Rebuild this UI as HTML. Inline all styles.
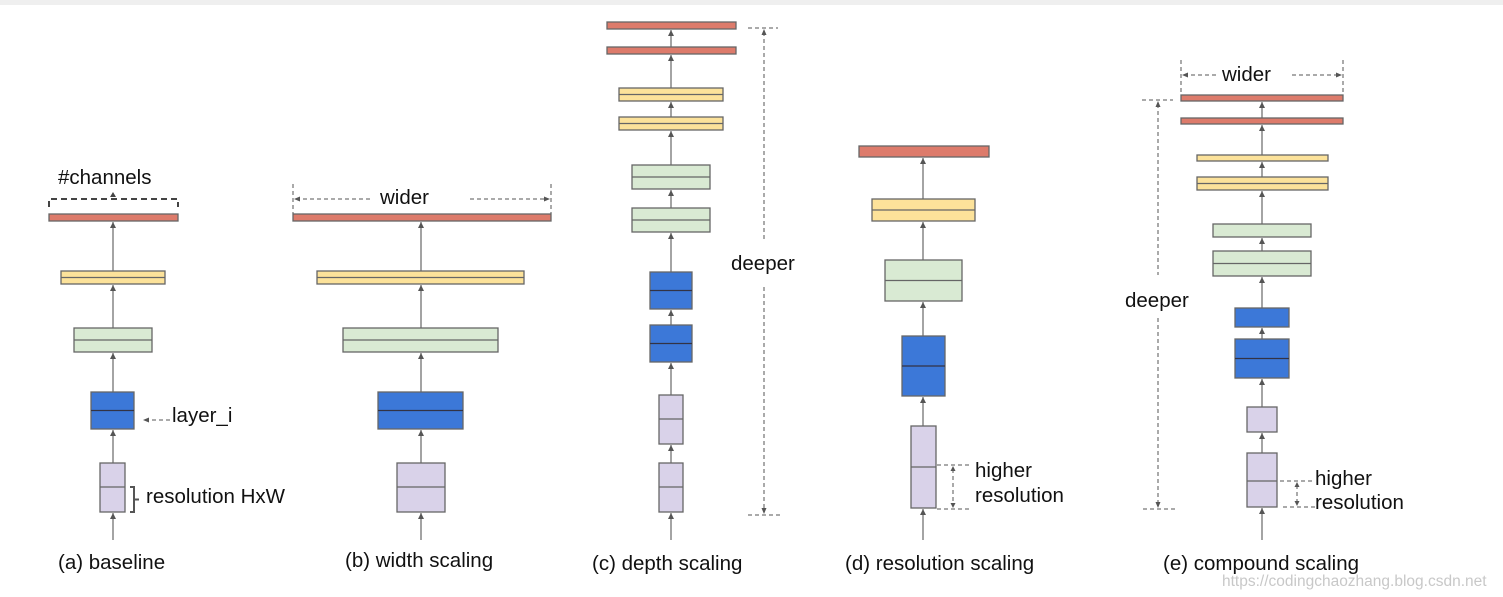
<!DOCTYPE html>
<html><head><meta charset="utf-8"><style>
html,body{margin:0;padding:0;background:#fff}
svg{display:block}
text{font-family:"Liberation Sans",Arial,sans-serif;fill:#111}
</style></head><body>
<svg width="1503" height="597" viewBox="0 0 1503 597" xmlns="http://www.w3.org/2000/svg">
<defs>
<marker id="ah" viewBox="0 0 10 10" refX="10" refY="5" markerWidth="5" markerHeight="6" orient="auto"><path d="M0,0 L10,5 L0,10 z" fill="#555"/></marker>
</defs>
<rect x="0" y="0" width="1503" height="5" fill="#efefef"/>
<g stroke="#666" stroke-width="1.3">
<rect x="49" y="214" width="129" height="7" fill="#dd7b6b"/>
<rect x="61" y="271" width="104" height="13" fill="#fce29a"/><line x1="61" y1="277.5" x2="165" y2="277.5"/>
<rect x="74" y="328" width="78" height="24" fill="#d9ead3"/><line x1="74" y1="340" x2="152" y2="340"/>
<rect x="91" y="392" width="43" height="37" fill="#3c78d8"/><line x1="91" y1="410.5" x2="134" y2="410.5" stroke="#334"/>
<rect x="100" y="463" width="25" height="49" fill="#d9d2e9"/><line x1="100" y1="487" x2="125" y2="487"/>
<rect x="293" y="214" width="258" height="7" fill="#dd7b6b"/>
<rect x="317" y="271" width="207" height="13" fill="#fce29a"/><line x1="317" y1="277.5" x2="524" y2="277.5"/>
<rect x="343" y="328" width="155" height="24" fill="#d9ead3"/><line x1="343" y1="340" x2="498" y2="340"/>
<rect x="378" y="392" width="85" height="37" fill="#3c78d8"/><line x1="378" y1="410.5" x2="463" y2="410.5" stroke="#334"/>
<rect x="397" y="463" width="48" height="49" fill="#d9d2e9"/><line x1="397" y1="487" x2="445" y2="487"/>
<rect x="607" y="22" width="129" height="7" fill="#dd7b6b"/>
<rect x="607" y="47" width="129" height="7" fill="#dd7b6b"/>
<rect x="619" y="88" width="104" height="13" fill="#fce29a"/><line x1="619" y1="94.5" x2="723" y2="94.5"/>
<rect x="619" y="117" width="104" height="13" fill="#fce29a"/><line x1="619" y1="123.5" x2="723" y2="123.5"/>
<rect x="632" y="165" width="78" height="24" fill="#d9ead3"/><line x1="632" y1="177" x2="710" y2="177"/>
<rect x="632" y="208" width="78" height="24" fill="#d9ead3"/><line x1="632" y1="220" x2="710" y2="220"/>
<rect x="650" y="272" width="42" height="37" fill="#3c78d8"/><line x1="650" y1="290.5" x2="692" y2="290.5" stroke="#334"/>
<rect x="650" y="325" width="42" height="37" fill="#3c78d8"/><line x1="650" y1="343.5" x2="692" y2="343.5" stroke="#334"/>
<rect x="659" y="395" width="24" height="49" fill="#d9d2e9"/><line x1="659" y1="419" x2="683" y2="419"/>
<rect x="659" y="463" width="24" height="49" fill="#d9d2e9"/><line x1="659" y1="487" x2="683" y2="487"/>
<rect x="859" y="146" width="130" height="11" fill="#dd7b6b"/>
<rect x="872" y="199" width="103" height="22" fill="#fce29a"/><line x1="872" y1="210" x2="975" y2="210"/>
<rect x="885" y="260" width="77" height="41" fill="#d9ead3"/><line x1="885" y1="280.5" x2="962" y2="280.5"/>
<rect x="902" y="336" width="43" height="60" fill="#3c78d8"/><line x1="902" y1="366" x2="945" y2="366" stroke="#334"/>
<rect x="911" y="426" width="25" height="82" fill="#d9d2e9"/><line x1="911" y1="467" x2="936" y2="467"/>
<rect x="1181" y="95" width="162" height="6" fill="#dd7b6b"/>
<rect x="1181" y="118" width="162" height="6" fill="#dd7b6b"/>
<rect x="1197" y="155" width="131" height="6" fill="#fce29a"/>
<rect x="1197" y="177" width="131" height="13" fill="#fce29a"/><line x1="1197" y1="183.5" x2="1328" y2="183.5"/>
<rect x="1213" y="224" width="98" height="13" fill="#d9ead3"/>
<rect x="1213" y="251" width="98" height="25" fill="#d9ead3"/><line x1="1213" y1="263.5" x2="1311" y2="263.5"/>
<rect x="1235" y="308" width="54" height="19" fill="#3c78d8"/>
<rect x="1235" y="339" width="54" height="39" fill="#3c78d8"/><line x1="1235" y1="358.5" x2="1289" y2="358.5" stroke="#334"/>
<rect x="1247" y="407" width="30" height="25" fill="#d9d2e9"/>
<rect x="1247" y="453" width="30" height="54" fill="#d9d2e9"/><line x1="1247" y1="481" x2="1277" y2="481"/>
</g>
<g stroke="#666" stroke-width="1.2" marker-end="url(#ah)">
<line x1="113" y1="540" x2="113" y2="513"/><line x1="113" y1="463" x2="113" y2="430"/><line x1="113" y1="392" x2="113" y2="353"/><line x1="113" y1="328" x2="113" y2="285"/><line x1="113" y1="271" x2="113" y2="222"/>
<line x1="421" y1="540" x2="421" y2="513"/><line x1="421" y1="463" x2="421" y2="430"/><line x1="421" y1="392" x2="421" y2="353"/><line x1="421" y1="328" x2="421" y2="285"/><line x1="421" y1="271" x2="421" y2="222"/>
<line x1="671" y1="540" x2="671" y2="513"/><line x1="671" y1="463" x2="671" y2="445"/><line x1="671" y1="395" x2="671" y2="363"/><line x1="671" y1="325" x2="671" y2="310"/><line x1="671" y1="272" x2="671" y2="233"/><line x1="671" y1="208" x2="671" y2="190"/><line x1="671" y1="165" x2="671" y2="131"/><line x1="671" y1="117" x2="671" y2="102"/><line x1="671" y1="88" x2="671" y2="55"/><line x1="671" y1="47" x2="671" y2="30"/>
<line x1="923" y1="540" x2="923" y2="509"/><line x1="923" y1="426" x2="923" y2="397"/><line x1="923" y1="336" x2="923" y2="302"/><line x1="923" y1="260" x2="923" y2="222"/><line x1="923" y1="199" x2="923" y2="158"/>
<line x1="1262" y1="540" x2="1262" y2="508"/><line x1="1262" y1="453" x2="1262" y2="433"/><line x1="1262" y1="407" x2="1262" y2="379"/><line x1="1262" y1="339" x2="1262" y2="328"/><line x1="1262" y1="308" x2="1262" y2="277"/><line x1="1262" y1="251" x2="1262" y2="238"/><line x1="1262" y1="224" x2="1262" y2="191"/><line x1="1262" y1="177" x2="1262" y2="162"/><line x1="1262" y1="155" x2="1262" y2="125"/><line x1="1262" y1="118" x2="1262" y2="102"/>
</g>
<g fill="none" stroke="#444" stroke-width="2" stroke-dasharray="6,4">
<path d="M49,207 L49,199 L178,199 L178,207"/>
</g>
<path d="M110,197 L113,192 L116,197" fill="#444"/>
<path d="M130,487 L134,487 L134,512 L130,512 M134,499.5 L139,499.5" fill="none" stroke="#555" stroke-width="2"/>
<g fill="none" stroke="#555" stroke-width="1" stroke-dasharray="4,3">
<line x1="170" y1="420" x2="145" y2="420"/>
<line x1="293" y1="184" x2="293" y2="214"/><line x1="551" y1="184" x2="551" y2="214"/>
<line x1="296" y1="199" x2="370" y2="199"/><line x1="470" y1="199" x2="548" y2="199"/>
<line x1="764" y1="32" x2="764" y2="240"/><line x1="764" y1="287" x2="764" y2="512"/>
<line x1="748" y1="28" x2="778" y2="28"/><line x1="748" y1="515" x2="780" y2="515"/>
<line x1="937" y1="465" x2="970" y2="465"/><line x1="937" y1="509" x2="970" y2="509"/><line x1="953" y1="469" x2="953" y2="505"/>
<line x1="1181" y1="60" x2="1181" y2="95"/><line x1="1343" y1="60" x2="1343" y2="95"/>
<line x1="1184" y1="75" x2="1218" y2="75"/><line x1="1292" y1="75" x2="1340" y2="75"/>
<line x1="1158" y1="104" x2="1158" y2="275"/><line x1="1158" y1="318" x2="1158" y2="505"/>
<line x1="1142" y1="100" x2="1173" y2="100"/><line x1="1143" y1="509" x2="1175" y2="509"/>
<line x1="1280" y1="481" x2="1312" y2="481"/><line x1="1283" y1="507" x2="1315" y2="507"/><line x1="1297" y1="485" x2="1297" y2="503"/>
</g>
<g fill="#555">
<path d="M143,420 L149,417.5 L149,422.5 z"/>
<path d="M294,199 L300,196.5 L300,201.5 z"/><path d="M550,199 L544,196.5 L544,201.5 z"/>
<path d="M764,29 L761.5,35 L766.5,35 z"/><path d="M764,514 L761.5,508 L766.5,508 z"/>
<path d="M953,466 L950.5,471 L955.5,471 z"/><path d="M953,508 L950.5,503 L955.5,503 z"/>
<path d="M1182,75 L1188,72.5 L1188,77.5 z"/><path d="M1342,75 L1336,72.5 L1336,77.5 z"/>
<path d="M1158,101 L1155.5,107 L1160.5,107 z"/><path d="M1158,508 L1155.5,502 L1160.5,502 z"/>
<path d="M1297,482 L1294.5,487 L1299.5,487 z"/><path d="M1297,506 L1294.5,501 L1299.5,501 z"/>
</g>
<g font-size="20.5">
<text x="58" y="184">#channels</text>
<text x="172" y="422">layer_i</text>
<text x="146" y="503">resolution HxW</text>
<text x="380" y="204">wider</text>
<text x="731" y="270">deeper</text>
<text x="975" y="477">higher</text>
<text x="975" y="502">resolution</text>
<text x="1222" y="81">wider</text>
<text x="1125" y="307">deeper</text>
<text x="1315" y="485">higher</text>
<text x="1315" y="509">resolution</text>
<text x="58" y="569">(a) baseline</text>
<text x="345" y="567">(b) width scaling</text>
<text x="592" y="570">(c) depth scaling</text>
<text x="845" y="570">(d) resolution scaling</text>
<text x="1163" y="570">(e) compound scaling</text>
</g>
<text x="1222" y="586" font-size="15.5" style="fill:#c8c8c8">https://codingchaozhang.blog.csdn.net</text>
</svg>
</body></html>
